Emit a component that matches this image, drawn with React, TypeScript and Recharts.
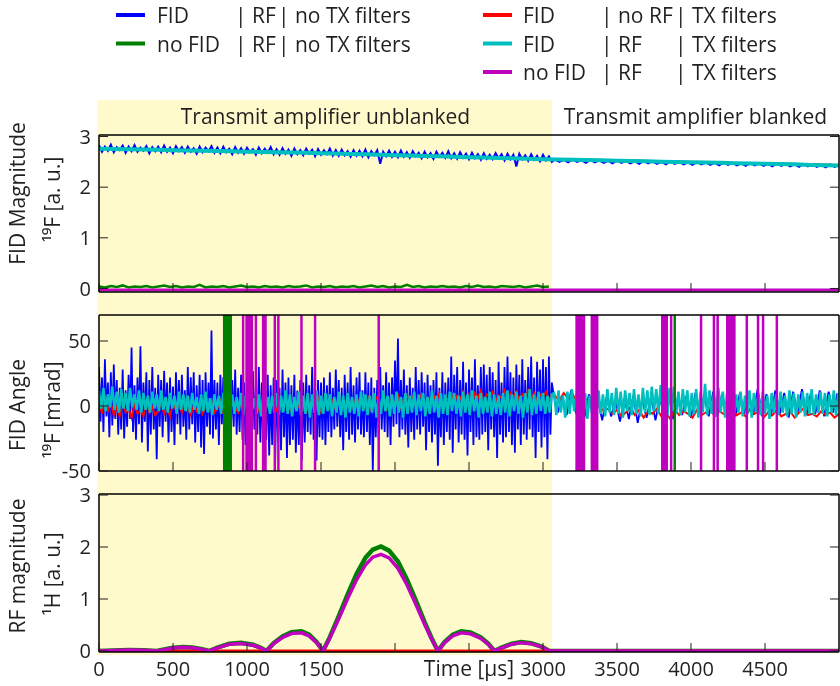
import React from "react";
import { LineChart, Line, XAxis, YAxis, ReferenceArea } from "recharts";

// MATLAB-style line colours
const BLUE = "#0000ff";
const GREEN = "#008000";
const RED = "#ff0000";
const CYAN = "#00bfbf";
const MAGENTA = "#bf00bf";
const SHADE = "#fffacc";
const INK = "#231f20";
const FONT = "'Open Sans', sans-serif";

const TIME_DOMAIN: [number, number] = [0, 5000];
const TIME_TICKS = [0, 500, 1000, 1500, 2000, 2500, 3000, 3500, 4000, 4500];
const UNLABELLED_TIMES = [2000, 2500];
const UNBLANKED_END = 3060;
const PHASE_WRAP = 3142; // mrad, off-scale

// legend text, split on the column bars
const LEGEND_LEFT = [
  ["FID", "| RF", "| no TX filters"],
  ["no FID", "| RF", "| no TX filters"],
];
const LEGEND_RIGHT = [
  ["FID", "| no RF", "| TX filters"],
  ["FID", "| RF", "| TX filters"],
  ["no FID", "| RF", "| TX filters"],
];

// ---- FID magnitude [a.u.] ----
// blue: 20 µs steps while unblanked, 30 µs steps after
const magBlueEarly = [
  2.83, 2.7, 2.8, 2.72, 2.84, 2.69, 2.79, 2.73, 2.82, 2.68, 2.8, 2.71, 2.83, 2.7, 2.78, 2.72, 2.81, 2.67, 2.79, 2.71,
  2.8, 2.69, 2.82, 2.7, 2.78, 2.67, 2.81, 2.71, 2.79, 2.68, 2.8, 2.7, 2.77, 2.66, 2.8, 2.69, 2.78, 2.71, 2.81, 2.68,
  2.78, 2.67, 2.8, 2.69, 2.76, 2.65, 2.79, 2.68, 2.77, 2.66, 2.78, 2.69, 2.75, 2.64, 2.78, 2.67, 2.76, 2.68, 2.79, 2.65,
  2.75, 2.64, 2.77, 2.66, 2.74, 2.62, 2.76, 2.65, 2.73, 2.63, 2.76, 2.66, 2.74, 2.61, 2.75, 2.64, 2.73, 2.65, 2.76, 2.62,
  2.73, 2.62, 2.74, 2.63, 2.71, 2.6, 2.73, 2.62, 2.72, 2.61, 2.74, 2.59, 2.71, 2.63, 2.73, 2.46, 2.7, 2.61, 2.72, 2.6,
  2.7, 2.59, 2.72, 2.6, 2.69, 2.58, 2.71, 2.61, 2.68, 2.57, 2.7, 2.59, 2.67, 2.56, 2.7, 2.6, 2.68, 2.58, 2.71, 2.57,
  2.67, 2.56, 2.69, 2.58, 2.66, 2.55, 2.68, 2.57, 2.65, 2.54, 2.67, 2.56, 2.64, 2.55, 2.67, 2.57, 2.65, 2.53, 2.66, 2.55,
  2.64, 2.41, 2.66, 2.55, 2.63, 2.52, 2.65, 2.54, 2.62, 2.51, 2.64, 2.53, 2.61, 2.5,
];
const magBlueLate = [
  2.55, 2.5, 2.54, 2.49, 2.55, 2.5, 2.53, 2.48, 2.54, 2.49,
  2.53, 2.48, 2.52, 2.47, 2.53, 2.48, 2.52, 2.47, 2.51, 2.46,
  2.52, 2.47, 2.51, 2.46, 2.5, 2.45, 2.51, 2.46, 2.5, 2.45,
  2.49, 2.44, 2.5, 2.45, 2.49, 2.44, 2.48, 2.43, 2.49, 2.44,
  2.48, 2.43, 2.47, 2.42, 2.48, 2.43, 2.47, 2.42, 2.46, 2.41,
  2.47, 2.42, 2.46, 2.41, 2.45, 2.4, 2.46, 2.41, 2.45, 2.4,
  2.44, 2.39, 2.45, 2.4, 2.44,
];
const magRed = [
  2.77, 2.76, 2.76, 2.75, 2.75, 2.74, 2.74, 2.73, 2.72, 2.72,
  2.71, 2.71, 2.7, 2.7, 2.69, 2.68, 2.68, 2.67, 2.66, 2.65,
  2.64, 2.64, 2.63, 2.62, 2.61, 2.6, 2.6, 2.59, 2.58, 2.57,
  2.56, 2.56, 2.55, 2.54, 2.54, 2.53, 2.53, 2.52, 2.51, 2.51,
  2.5, 2.5, 2.49, 2.48, 2.48, 2.47, 2.47, 2.46, 2.45, 2.45, 2.44,
];
const magCyan = [
  2.76, 2.755, 2.75, 2.745, 2.74, 2.73, 2.725, 2.72, 2.715, 2.71,
  2.7, 2.695, 2.69, 2.685, 2.68, 2.67, 2.665, 2.655, 2.65, 2.64,
  2.63, 2.625, 2.615, 2.61, 2.6, 2.59, 2.585, 2.575, 2.57, 2.56,
  2.55, 2.545, 2.54, 2.535, 2.53, 2.52, 2.515, 2.51, 2.5, 2.495,
  2.49, 2.485, 2.48, 2.47, 2.465, 2.46, 2.455, 2.45, 2.44, 2.435, 2.43,
];
const magGreen = [
  0.04, 0.02, 0.05, 0.03, 0.06, 0.02, 0.04, 0.03, 0.05, 0.02,
  0.04, 0.06, 0.03, 0.05, 0.02, 0.04, 0.03, 0.07, 0.02, 0.04,
  0.03, 0.05, 0.02, 0.04, 0.06, 0.03, 0.04, 0.02, 0.05, 0.03,
  0.04, 0.02, 0.05, 0.03, 0.04, 0.06, 0.02, 0.04, 0.03, 0.05,
  0.02, 0.04, 0.03, 0.05, 0.02, 0.04, 0.06, 0.03, 0.05, 0.02,
  0.04, 0.03, 0.07, 0.03, 0.05, 0.02, 0.04, 0.03, 0.05, 0.03,
  0.04, 0.02, 0.05, 0.03, 0.06, 0.03, 0.04, 0.02, 0.05, 0.04,
  0.03, 0.05, 0.02, 0.04, 0.06, 0.03, 0.04,
];
const magMagenta = [-0.03, -0.03];

// ---- FID angle [mrad] ----
// blue: 10 µs steps while unblanked
const angBlueEarly = [
  30, -12, 22, -20, 36, -8, 18, -24, 26, -15, 32, -10, 20, -22, 14, -18, 28, -25, 12, -16,
  24, -10, 45, -20, 16, -26, 22, -14, 46, -28, 18, -12, 26, -35, 20, -22, 30, -18, 14, -41,
  24, -16, 20, -24, 27, -12, 18, -28, 22, -20, 15, -30, 26, -14, 20, -22, 24, -16, 12, -26,
  30, -18, 22, -14, 26, -28, 16, -20, 24, -32, 20, -37, 26, -16, 18, -22, 58, -25, 20, -18,
  18, -30, 24, -14, 22, -20, 16, -18, 26, -24, 20, -16, 28, -22, 14, -20, 24, -26, 18, -30,
  16, -22, 20, -26, 27, -18, 14, -22, 30, -28, 18, -32, 12, -26, 24, -38, 16, -30, 22, -45,
  20, -28, 14, -34, 28, -24, 18, -40, 22, -30, 16, -26, 24, -36, 12, -30, 20, -42, 18, -28,
  24, -20, 16, -22, 30, -26, 14, -42, 20, -24, 18, -26, 22, -30, 16, -20, 26, -24, 14, -18,
  28, -16, 20, -24, 14, -34, 24, -20, 18, -26, 30, -22, 16, -28, 22, -18, 26, -22, 12, -24,
  26, -20, 18, -30, 22, -50, 14, -24, 20, -26, 30, -18, 16, -20, 26, -24, 18, -30, 22, -16,
  35, -14, 52, -24, 20, -18, 28, -22, 16, -32, 22, -20, 14, -26, 30, -18, 20, -22, 26, -16,
  18, -34, 24, -20, 16, -28, 20, -22, 26, -46, 14, -24, 26, -30, 18, -20, 22, -26, 38, -36,
  24, -18, 30, -28, 20, -22, 34, -26, 18, -38, 28, -20, 22, -30, 36, -24, 16, -26, 30, -22,
  32, -20, 24, -34, 30, -18, 26, -24, 20, -40, 34, -22, 18, -28, 30, -24, 38, -20, 26, -30,
  22, -36, 32, -18, 24, -30, 36, -22, 20, -26, 30, -18, 38, -24, 22, -40, 34, -20, 28, -32,
  36, -24, 30, -41, 38, -22, 18,
];
const angBlueLate = [
  10, -5, 8, -7, 12, -4, 6, -9, 9, -6,
  5, -11, 7, -8, 4, -12, 6, -10, 8, -13,
  5, -9, 7, -11, 6, -8, 9, -10, 5, -7,
  8, -9, 10, -6, 7, -8, 11, -7, 9, -5,
  12, -8, 10, -6, 11, -7, 13, -5, 9, -8,
  12, -6, 10, -9, 11, -5, 13, -7, 10, -6,
  12, -8, 11, -5, 10,
];
const angRedEarly = [
  5, -6, 8, -4, 2, -7, -1, -8, 3, -5, -2, -9, 1, -6, -3, -8, 4, -5, -1, -7,
  -4, 2, -6, -1, -8, 3, -3, 1, -5, 6, -2, -7, 0, -4, 2, -6, -1, -3, 4, -5,
  -2, 4, -6, 2, -3, 7, -1, -5, 3, -2, 5, -4, 1, 6, -3, 2, -6, 4, -1, 5,
  -3, 3, -5, 6, 0, -4, 4, -2, 7, -3, 2, -5, 5, -1, 6, -4, 3, 8, -2, 4,
  -3, 6, 1, -4, 7, 2, -2, 8, 0, 5, -2, 6, -3, 4, 7, -1, 5, -4, 6, 2,
  3, 8, -1, 6, 9, 2, 7, 0, 5, 9, 1, 6, -2, 8, 4, 10, 2, 7, 5, 9,
  3, 8, 5, 11, 4, 9, 2, 10, 6, 12, 4, 9, 7, 11, 3, 8, 6, 12, 5, 10,
  7, 11, 4, 9, 6, 12, 5, 10, 3, 9, 7, 11, 5, 9,
];
const angRedLate = [
  8, 4, 10, 6, 9, 3, 7, 5, 2, 6,
  0, -4, -2, -6, -3, -8, -5, -1, -7, -3,
  -9, -4, -6, -2, -8, -5, -10, -3, -7, -4,
  -6, -9, -3, -7, -5, -2, -8, -4, -6, -9,
  -3, -7, -5, -8, -2, -6, -4, -9, -5, -7,
  -3, -8, -6, -4, -9, -5, -2, -7, -6, -8,
  -4, -7, -5, -9, -6,
];
const angCyanEarly = [
  12, -2, 14, -4, 9, -1, 15, -3, 11, -5, 13, -2, 10, -4, 14, -1, 9, -3, 12, -5,
  10, -3, 8, -5, 11, -2, 9, -4, 12, -3, 7, -5, 10, -2, 8, -6, 11, -3, 9, -4,
  8, -5, 10, -3, 7, -6, 9, -4, 11, -5, 6, -7, 9, -3, 8, -6, 10, -4, 7, -5,
  9, -6, 7, -4, 10, -7, 8, -5, 11, -3, 6, -6, 9, -8, 10, -4, 7, -6, 8, -5,
  10, -7, 8, -5, 12, -6, 9, -8, 7, -4, 11, -7, 8, -6, 10, -9, 9, -5, 12, -7,
  8, -6, 10, -4, 9, -8, 7, -5, 11, -7, 8, -9, 10, -5, 7, -6, 9, -8, 11, -4,
  9, -7, 8, -5, 10, -9, 7, -6, 12, -4, 8, -8, 9, -6, 11, -5, 7, -9, 10, -6,
  8, -5, 11, -7, 9, -4, 10, -8, 7, -6, 12, -5, 8, -9, 10, -6, 9, -7, 11, -4,
  10, -6, 8, -8, 11, -5, 9, -7, 12, -4, 8, -9, 10, -6, 7, -5, 11, -8, 9, -6,
  8, -7, 10, -5, 12, -8, 9, -4, 11, -6, 8, -9, 10, -5, 13, -7, 9, -6, 11, -4,
  10, -6, 8, -5, 9,
];
const angCyanLate = [
  10, -7, 12, -5, 8, -9, 11, -6, 13, -4, 9, -8, 12, -6, 10, -10, 8, -5, 11, -7,
  12, -6, 9, -8, 13, -5, 10, -7, 14, -6, 11, -9, 12, -4, 10, -7, 13, -6, 9, -8,
  14, -5, 12, -7, 15, -4, 13, -6, 16, -5, 12, -8, 14, -4, 15, -6, 11, -7, 13, -5,
  12, -8, 10, -6, 13, -9, 11, -5, 17, -7, 12, -6, 10, -8, 14, -5, 11, -9, 12, -6,
  10, -7, 9, -5, 11, -8, 8, -6, 12, -9, 10, -5, 9, -7, 11, -6, 8, -10, 10, -5,
  9, -7, 11, -5, 8, -8, 12, -6, 10, -9, 9, -5, 11, -8, 10, -6, 13, -7, 9, -5,
  11, -6, 10, -8, 9, -5, 12, -7, 10,
];
// times [µs] where the no-FID phase wraps through the visible range
const greenWraps = [846, 850, 854, 858, 862, 866, 870, 874, 878, 882, 886, 890, 3890];
const magentaWraps = [
  974, 997, 1003, 1009, 1015, 1021, 1027, 1033, 1060, 1109, 1125, 1188, 1212, 1368, 1460, 1890,
  3227, 3233, 3239, 3245, 3251, 3257, 3263, 3277, 3330, 3336, 3342, 3348, 3354, 3360, 3366,
  3806, 3812, 3818, 3824, 3830, 3836, 3866, 4068, 4155, 4180,
  4245, 4251, 4257, 4263, 4269, 4275, 4281, 4287, 4293, 4377, 4453, 4487, 4580,
];

// ---- RF magnitude [a.u.] ----
const rfTime = [
  0, 100, 200, 300, 390, 440, 500, 568, 630, 690, 745, 800, 880, 960, 1040, 1090, 1131,
  1180, 1240, 1300, 1368, 1420, 1470, 1514, 1560, 1620, 1680, 1740, 1800, 1850, 1905,
  1960, 2020, 2080, 2140, 2200, 2245, 2290, 2335, 2390, 2447, 2510, 2580, 2630, 2672,
  2720, 2790, 2852, 2920, 2990, 3043, 3060, 5000,
];
const rfGreen = [
  0, 0.01, 0.02, 0.015, 0, 0.028, 0.06, 0.076, 0.065, 0.038, 0, 0.065, 0.14, 0.157, 0.12, 0.065, 0,
  0.15, 0.28, 0.36, 0.378, 0.313, 0.173, 0, 0.27, 0.67, 1.09, 1.48, 1.79, 1.95, 2.01,
  1.93, 1.72, 1.38, 0.98, 0.556, 0.26, 0, 0.173, 0.313, 0.378, 0.356, 0.26, 0.14, 0,
  0.065, 0.14, 0.173, 0.15, 0.086, 0, 0, 0,
];
const rfMagenta = [
  0, 0.01, 0.02, 0.015, 0, 0.025, 0.055, 0.07, 0.06, 0.035, 0, 0.06, 0.13, 0.145, 0.11, 0.06, 0,
  0.14, 0.26, 0.335, 0.35, 0.29, 0.16, 0, 0.25, 0.62, 1.01, 1.37, 1.655, 1.805, 1.86,
  1.79, 1.59, 1.28, 0.905, 0.515, 0.24, 0, 0.16, 0.29, 0.35, 0.33, 0.24, 0.13, 0,
  0.06, 0.13, 0.16, 0.14, 0.08, 0, 0, 0,
];
const rfRedTime = [0, 5000];
const rfRed = [0, 0];

type Pt = { t: number; v: number };

const sampled = (t0: number, dt: number, values: number[]): Pt[] =>
  values.map((v, i) => ({ t: t0 + i * dt, v }));

const paired = (times: number[], values: number[]): Pt[] =>
  times.map((t, i) => ({ t, v: values[i] }));

// phase held off-scale at ±PHASE_WRAP, flipping sign at each wrap time
const wrapped = (wraps: number[]): Pt[] => {
  let s = PHASE_WRAP;
  const pts: Pt[] = [{ t: 0, v: s }];
  for (const w of wraps) {
    pts.push({ t: w - 0.5, v: s });
    s = -s;
    pts.push({ t: w + 0.5, v: s });
  }
  pts.push({ t: 5000, v: s });
  return pts;
};

const magBlue = [...sampled(0, 20, magBlueEarly), ...sampled(3080, 30, magBlueLate)];
const angBlue = [...sampled(0, 10, angBlueEarly), ...sampled(3070, 30, angBlueLate)];
const angRed = [...sampled(0, 20, angRedEarly), ...sampled(3080, 30, angRedLate)];
const angCyan = [...sampled(0, 15, angCyanEarly), ...sampled(3075, 15, angCyanLate)];

const TICK = 9;
const AXIS_LINE = { stroke: "#000", strokeWidth: 1.5 };

function BottomTick(props: any) {
  const { x, y, payload, labelled } = props;
  const show = labelled && !UNLABELLED_TIMES.includes(payload.value);
  return (
    <g>
      <line x1={x} x2={x} y1={y} y2={y - TICK} stroke={INK} />
      {show && (
        <text x={x} y={y + 24} textAnchor="middle" fontSize={20} fill={INK}>
          {payload.value}
        </text>
      )}
    </g>
  );
}

const TopTick = ({ x, y }: any) => <line x1={x} x2={x} y1={y} y2={y + TICK} stroke={INK} />;
const RightTick = ({ x, y }: any) => <line x1={x} x2={x - TICK} y1={y} y2={y} stroke={INK} />;

function LeftTick({ x, y, payload }: any) {
  return (
    <g>
      <line x1={x} x2={x + TICK} y1={y} y2={y} stroke={INK} />
      <text x={x - 8} y={y} dy="0.36em" textAnchor="end" fontSize={20} fill={INK}>
        {payload.value}
      </text>
    </g>
  );
}

const axisTitle = (lines: [string, string], shifts: [number, number]) => (props: any) => {
  const vb = props.viewBox;
  const mid = vb.y + vb.height / 2;
  const c1 = mid + shifts[0];
  const c2 = mid + shifts[1];
  return (
    <g fontSize={21} fill={INK} textAnchor="middle">
      <text x={25} y={c1} transform={`rotate(-90 25 ${c1})`}>{lines[0]}</text>
      <text x={60} y={c2} transform={`rotate(-90 60 ${c2})`}>{lines[1]}</text>
    </g>
  );
};

const timeTitle = (props: any) => {
  const vb = props.viewBox;
  return (
    <text x={vb.x + vb.width / 2} y={vb.y + 24} textAnchor="middle" fontSize={21} fill={INK}>
      Time [µs]
    </text>
  );
};

const shadeShape = (top: number, bottom: number) => (p: any) => (
  <rect x={p.x} y={top} width={p.width} height={bottom - top} fill={SHADE} style={{ mixBlendMode: "multiply" }} />
);

const sectionTitle = (text: string) => (p: any) => (
  <text x={p.x + p.width / 2} y={29} textAnchor="middle" fontSize={21} fill={INK}>
    {text}
  </text>
);

type PanelProps = {
  top: number;
  height: number;
  margin: { top: number; bottom: number };
  bottomAxisHeight: number;
  domain: [number, number];
  ticks: number[];
  titles: [string, string];
  titleShifts: [number, number];
  shade: [number, number];
  timeLabels?: boolean;
  sectionTitles?: boolean;
  children: React.ReactNode;
};

function Panel(p: PanelProps) {
  return (
    <div style={{ position: "absolute", left: 0, top: p.top }}>
      <LineChart width={840} height={p.height} margin={{ top: p.margin.top, right: 0, bottom: p.margin.bottom, left: 0 }}>
        <XAxis
          dataKey="t"
          type="number"
          domain={TIME_DOMAIN}
          ticks={TIME_TICKS}
          interval={0}
          allowDataOverflow
          height={p.bottomAxisHeight}
          tickSize={0}
          tickMargin={0}
          tickLine={false}
          axisLine={AXIS_LINE}
          tick={(t: any) => <BottomTick {...t} labelled={p.timeLabels} />}
          label={p.timeLabels ? { content: timeTitle } : undefined}
        />
        <XAxis
          xAxisId="top"
          orientation="top"
          type="number"
          domain={TIME_DOMAIN}
          ticks={TIME_TICKS}
          interval={0}
          allowDataOverflow
          height={1}
          tickSize={0}
          tickMargin={0}
          tickLine={false}
          axisLine={AXIS_LINE}
          tick={TopTick}
        />
        <YAxis
          type="number"
          domain={p.domain}
          ticks={p.ticks}
          interval={0}
          allowDataOverflow
          width={99}
          tickSize={0}
          tickMargin={0}
          tickLine={false}
          axisLine={AXIS_LINE}
          tick={LeftTick}
          label={{ content: axisTitle(p.titles, p.titleShifts) }}
        />
        <YAxis
          yAxisId="right"
          orientation="right"
          type="number"
          domain={p.domain}
          ticks={p.ticks}
          interval={0}
          allowDataOverflow
          width={1}
          tickSize={0}
          tickMargin={0}
          tickLine={false}
          axisLine={AXIS_LINE}
          tick={RightTick}
        />
        {p.children}
        <ReferenceArea x1={-12} x2={UNBLANKED_END} ifOverflow="visible" shape={shadeShape(p.shade[0], p.shade[1])} />
        {p.sectionTitles && (
          <ReferenceArea x1={0} x2={UNBLANKED_END} ifOverflow="visible" shape={sectionTitle("Transmit amplifier unblanked")} />
        )}
        {p.sectionTitles && (
          <ReferenceArea x1={UNBLANKED_END} x2={5000} ifOverflow="visible" shape={sectionTitle("Transmit amplifier blanked")} />
        )}
      </LineChart>
    </div>
  );
}

const trace = (key: string, data: Pt[], color: string, width: number) => (
  <Line
    key={key}
    data={data}
    dataKey="v"
    type="linear"
    stroke={color}
    strokeWidth={width}
    dot={false}
    activeDot={false}
    isAnimationActive={false}
  />
);

function LegendBlock() {
  const baselines = [23, 51.5, 80];
  const column = (entries: string[][], colors: string[], swatch: [number, number], xs: number[]) =>
    entries.map((parts, r) => (
      <g key={parts.join() + r}>
        <line x1={swatch[0]} x2={swatch[1]} y1={baselines[r] - 8} y2={baselines[r] - 8} stroke={colors[r]} strokeWidth={4} />
        {parts.map((s, i) => (
          <text key={i} x={xs[i]} y={baselines[r]} fontSize={21} fill={INK}>
            {s}
          </text>
        ))}
      </g>
    ));
  return (
    <svg width={840} height={95} style={{ position: "absolute", left: 0, top: 0 }}>
      {column(LEGEND_LEFT, [BLUE, GREEN], [116, 145], [157, 235, 278])}
      {column(LEGEND_RIGHT, [RED, CYAN, MAGENTA], [483, 512], [523, 601, 675])}
    </svg>
  );
}

export default function App() {
  return (
    <div style={{ position: "absolute", left: 0, top: 0, width: 840, height: 686, background: "#fff", fontFamily: FONT }}>
      <LegendBlock />
      <Panel
        top={95}
        height={210}
        margin={{ top: 39, bottom: 12 }}
        bottomAxisHeight={1}
        domain={[-0.07, 3.03]}
        ticks={[0, 1, 2, 3]}
        titles={["FID Magnitude", "¹⁹F [a. u.]"]}
        titleShifts={[-20, -14]}
        shade={[5, 210]}
        sectionTitles
      >
        {trace("mb", magBlue, BLUE, 2)}
        {trace("mg", sampled(0, 40, magGreen), GREEN, 2.5)}
        {trace("mr", sampled(0, 100, magRed), RED, 1.5)}
        {trace("mc", sampled(0, 100, magCyan), CYAN, 4)}
        {trace("mm", sampled(0, 5000, magMagenta), MAGENTA, 3)}
      </Panel>
      <Panel
        top={305}
        height={185}
        margin={{ top: 9, bottom: 18 }}
        bottomAxisHeight={1}
        domain={[-50, 70]}
        ticks={[-50, 0, 50]}
        titles={["FID Angle", "¹⁹F [mrad]"]}
        titleShifts={[12, 17]}
        shade={[0, 185]}
      >
        {trace("ab", angBlue, BLUE, 1.8)}
        {trace("ar", angRed, RED, 2)}
        {trace("ac", angCyan, CYAN, 2.5)}
        {trace("ag", wrapped(greenWraps), GREEN, 2.5)}
        {trace("am", wrapped(magentaWraps), MAGENTA, 2.5)}
      </Panel>
      <Panel
        top={478}
        height={208}
        margin={{ top: 15, bottom: 0 }}
        bottomAxisHeight={34}
        domain={[-0.02, 3.02]}
        ticks={[0, 1, 2, 3]}
        titles={["RF magnitude", "¹H [a. u.]"]}
        titleShifts={[-7, 1]}
        shade={[12, 177]}
        timeLabels
      >
        {trace("rg", paired(rfTime, rfGreen), GREEN, 4.5)}
        {trace("rr", paired(rfRedTime, rfRed), RED, 3)}
        {trace("rm", paired(rfTime, rfMagenta), MAGENTA, 3.5)}
      </Panel>
    </div>
  );
}
